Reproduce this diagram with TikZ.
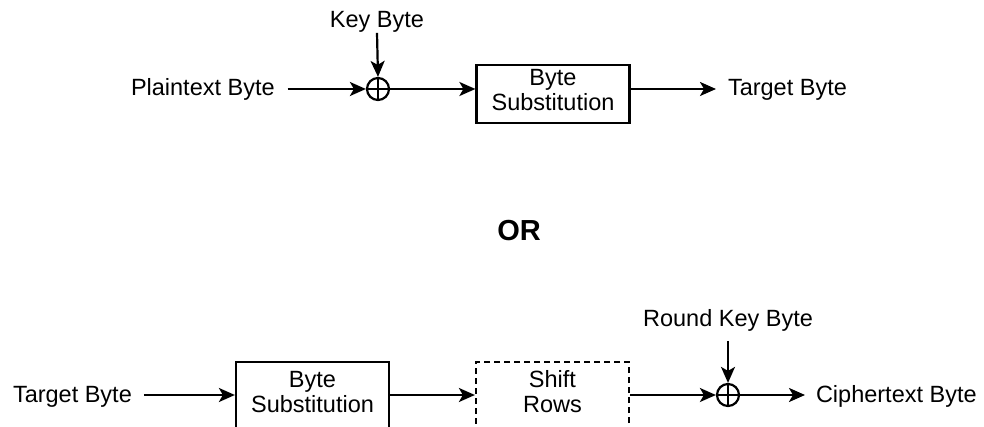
\documentclass[tikz,border=0pt]{standalone}
\usepackage{fontspec}
\setmainfont{Liberation Sans}
\usetikzlibrary{arrows.meta}

\begin{document}
\begin{tikzpicture}[x=1pt,y=-1pt,
  font=\fontsize{23.5}{25}\selectfont,
  line width=2.2pt,
  flow/.style={-{Stealth[length=16pt,width=14pt,inset=4pt]}},
  lbl/.style={inner sep=0pt, outer sep=0pt},
  xorop/.style={circle, draw, minimum size=22pt, inner sep=0pt,
    path picture={\draw (path picture bounding box.north) -- (path picture bounding box.south)
                        (path picture bounding box.west) -- (path picture bounding box.east);}},
  stage/.style={draw, minimum width=153pt, inner sep=0pt},
  stagetext/.style={lbl, align=center, yshift=4pt},
  ]
\path[use as bounding box, clip] (0,0) rectangle (984,427);

% first variant: key addition, then S-box
\node[lbl, anchor=base west] (pt) at (131,96) {Plaintext Byte};
\node[xorop] (x1) at (378,89) {};
\node[lbl, anchor=base] (kb) at (377,28) {Key Byte};
\node[stage, minimum height=58pt,
      label={[stagetext]center:Byte\\Substitution}] (bs1) at (553,94) {};
\node[lbl, anchor=base west] (tb1) at (728,96) {Target Byte};

\draw[flow, shorten <=13pt] (pt.east |- x1) -- (x1.west);
\draw[flow] (kb.south) -- (x1.north);
\draw[flow] (x1.east) -- (bs1.west |- x1);
\draw[flow, shorten >=12pt] (bs1.east |- x1) -- (tb1.west |- x1);

\node[font=\bfseries\fontsize{29}{31}\selectfont] (or) at (519,231) {OR};

% second variant: S-box, ShiftRows, round key addition
\node[lbl, anchor=base west] (tb2) at (13,402) {Target Byte};
\node[stage, minimum height=68pt,
      label={[stagetext]center:Byte\\Substitution}] (bs2) at (312.5,396) {};
\node[stage, dashed, dash pattern=on 6pt off 4pt, minimum height=68pt,
      label={[stagetext]center:Shift\\Rows}] (sr) at (552.5,396) {};
\node[xorop] (x2) at (728,395) {};
\node[lbl, anchor=base] (rk) at (728,326) {Round Key Byte};
\node[lbl, anchor=base west] (ct) at (816,402) {Ciphertext Byte};

\draw[flow, shorten <=12pt] (tb2.east |- x2) -- (bs2.west |- x2);
\draw[flow] (bs2.east |- x2) -- (sr.west |- x2);
\draw[flow] (sr.east |- x2) -- (x2.west);
\draw[flow, shorten <=10pt] (rk.south) -- (x2.north);
\draw[flow, shorten >=11pt] (x2.east) -- (ct.west |- x2);
\end{tikzpicture}
\end{document}
